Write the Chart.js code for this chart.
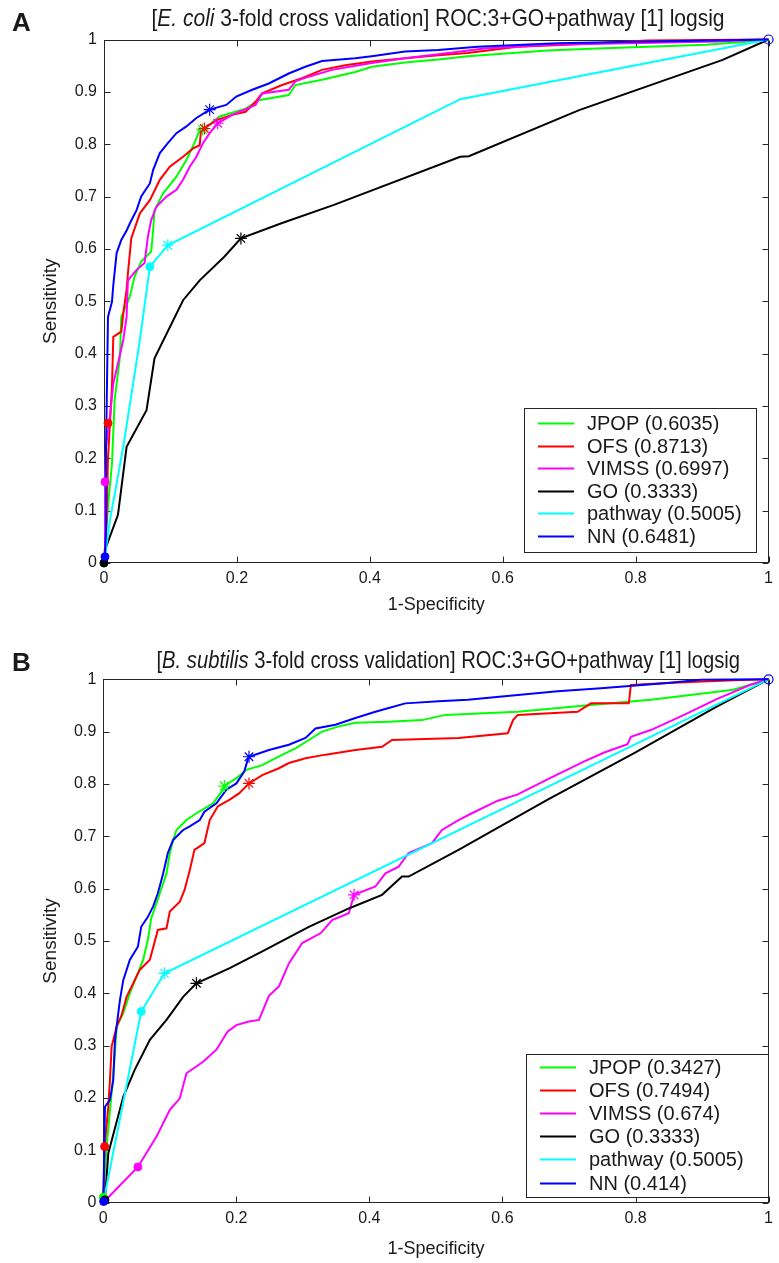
<!DOCTYPE html>
<html><head><meta charset="utf-8">
<script src="https://cdn.jsdelivr.net/npm/chart.js@4.4.1/dist/chart.umd.min.js"></script>
<style>
html,body{margin:0;padding:0;background:#fff;}
#wrap{position:relative;width:779px;height:1263px;overflow:hidden;background:#fff;}
canvas{position:absolute;left:0;}
.ttl{position:absolute;left:104px;width:668px;text-align:center;font-family:"Liberation Sans",Arial,sans-serif;font-size:24px;line-height:26px;color:#1a1a1a;transform:scaleX(0.875);white-space:nowrap;}
.pl{position:absolute;left:12px;font-family:"Liberation Sans",Arial,sans-serif;font-weight:bold;font-size:26px;line-height:26px;color:#1a1a1a;}
</style></head><body>
<div id="wrap">
<canvas id="cA" width="779" height="631" style="top:0;width:779px;height:631px"></canvas>
<canvas id="cB" width="779" height="632" style="top:631px;width:779px;height:632px"></canvas>
<div class="pl" style="top:9px">A</div>
<div class="ttl" style="top:5px">[<i>E. coli</i> 3-fold cross validation] ROC:3+GO+pathway [1] logsig</div>
<div class="pl" style="top:649px">B</div>
<div class="ttl" style="top:647px;transform:scaleX(0.843)">[<i>B. subtilis</i> 3-fold cross validation] ROC:3+GO+pathway [1] logsig</div>
</div>
<script>
// ---------- data ----------
const SERIES_LABELS = ['JPOP','OFS','VIMSS','GO','pathway','NN'];
const X_TICKS = ['0','0.2','0.4','0.6','0.8','1'];
const Y_TICKS = ['0','0.1','0.2','0.3','0.4','0.5','0.6','0.7','0.8','0.9','1'];
const X_TITLE = '1-Specificity';
const Y_TITLE = 'Sensitivity';
const AUC_A = ['0.6035','0.8713','0.6997','0.3333','0.5005','0.6481'];
const AUC_B = ['0.3427','0.7494','0.674','0.3333','0.5005','0.414'];

// Panel A (E. coli): [1-specificity, sensitivity]
const A_JPOP = [[0,0],[0.006,0.108],[0.012,0.19],[0.016,0.311],[0.024,0.394],[0.026,0.47],[0.039,0.509],[0.046,0.547],[0.056,0.576],[0.071,0.595],[0.074,0.636],[0.076,0.674],[0.089,0.706],[0.109,0.738],[0.124,0.77],[0.136,0.802],[0.144,0.827],[0.151,0.83],[0.174,0.853],[0.213,0.868],[0.233,0.884],[0.278,0.894],[0.288,0.913],[0.328,0.923],[0.378,0.938],[0.403,0.948],[0.453,0.956],[0.503,0.962],[0.547,0.968],[0.667,0.979],[0.742,0.983],[0.906,0.99],[0.971,0.996],[1,1]];
const A_OFS = [[0,0],[0.004,0.082],[0.006,0.2],[0.009,0.267],[0.012,0.337],[0.014,0.432],[0.026,0.442],[0.029,0.477],[0.034,0.522],[0.036,0.553],[0.041,0.62],[0.054,0.668],[0.069,0.693],[0.084,0.732],[0.099,0.757],[0.119,0.776],[0.134,0.792],[0.144,0.798],[0.146,0.827],[0.151,0.83],[0.169,0.846],[0.193,0.856],[0.213,0.862],[0.228,0.881],[0.238,0.897],[0.268,0.913],[0.298,0.926],[0.328,0.942],[0.363,0.951],[0.403,0.958],[0.453,0.964],[0.503,0.97],[0.547,0.974],[0.622,0.986],[0.697,0.99],[0.817,0.998],[1,1]];
const A_VIMSS = [[0,0],[0.0015,0.155],[0.003,0.222],[0.009,0.28],[0.014,0.343],[0.021,0.381],[0.029,0.426],[0.034,0.47],[0.036,0.54],[0.049,0.56],[0.061,0.573],[0.066,0.623],[0.071,0.655],[0.079,0.681],[0.094,0.7],[0.109,0.713],[0.119,0.732],[0.129,0.757],[0.139,0.776],[0.149,0.802],[0.159,0.821],[0.171,0.84],[0.193,0.856],[0.228,0.875],[0.238,0.897],[0.278,0.904],[0.288,0.92],[0.308,0.929],[0.343,0.942],[0.403,0.955],[0.453,0.964],[0.503,0.972],[0.572,0.983],[0.672,0.99],[0.921,0.996],[1,1]];
const A_GO = [[0,0],[0.0015,0.025],[0.021,0.092],[0.034,0.222],[0.064,0.292],[0.076,0.391],[0.119,0.502],[0.144,0.54],[0.181,0.585],[0.206,0.62],[0.267,0.649],[0.346,0.684],[0.536,0.776],[0.549,0.777],[0.715,0.865],[0.931,0.961],[1,1]];
const A_PATHWAY = [[0,0],[0.009,0.082],[0.029,0.222],[0.054,0.426],[0.069,0.566],[0.096,0.607],[0.536,0.886],[1,1]];
const A_NN = [[0,0],[0.0015,0.012],[0.003,0.063],[0.003,0.216],[0.006,0.47],[0.012,0.499],[0.014,0.531],[0.019,0.592],[0.026,0.617],[0.034,0.635],[0.039,0.649],[0.049,0.674],[0.056,0.7],[0.069,0.725],[0.074,0.751],[0.084,0.783],[0.096,0.802],[0.109,0.821],[0.124,0.834],[0.139,0.85],[0.159,0.866],[0.184,0.875],[0.199,0.891],[0.223,0.904],[0.248,0.916],[0.278,0.935],[0.303,0.948],[0.328,0.959],[0.378,0.964],[0.403,0.968],[0.453,0.977],[0.503,0.98],[0.562,0.986],[0.682,0.993],[0.821,0.996],[1,1]];
const A_STARS = [[0.148,0.828],[0.151,0.83],[0.171,0.84],[0.206,0.62],[0.096,0.607],[0.159,0.866]];
const A_DOTS = [[0,0],[0.006,0.267],[0.0015,0.155],[0,0],[0.069,0.566],[0.0015,0.012]];

// Panel B (B. subtilis)
const B_JPOP = [[0,0],[0,0.011],[0.005,0.107],[0.0125,0.209],[0.0175,0.285],[0.02,0.336],[0.03,0.362],[0.04,0.4],[0.05,0.432],[0.06,0.464],[0.067,0.502],[0.072,0.543],[0.08,0.572],[0.085,0.591],[0.095,0.629],[0.1,0.668],[0.105,0.693],[0.11,0.712],[0.125,0.731],[0.14,0.744],[0.165,0.763],[0.18,0.789],[0.182,0.796],[0.2,0.811],[0.215,0.827],[0.239,0.836],[0.254,0.846],[0.274,0.859],[0.289,0.868],[0.309,0.884],[0.329,0.9],[0.354,0.91],[0.379,0.917],[0.429,0.919],[0.479,0.922],[0.514,0.932],[0.623,0.938],[0.733,0.951],[0.823,0.961],[0.907,0.974],[0.947,0.98],[1,1]];
const B_OFS = [[0,0],[0.002,0.107],[0.0075,0.183],[0.01,0.234],[0.0125,0.298],[0.02,0.336],[0.0275,0.358],[0.035,0.393],[0.045,0.419],[0.055,0.445],[0.07,0.464],[0.082,0.521],[0.095,0.524],[0.1,0.556],[0.115,0.575],[0.122,0.597],[0.13,0.635],[0.137,0.674],[0.152,0.687],[0.16,0.731],[0.172,0.757],[0.19,0.77],[0.204,0.782],[0.219,0.801],[0.239,0.817],[0.264,0.83],[0.279,0.84],[0.304,0.849],[0.334,0.856],[0.379,0.865],[0.419,0.871],[0.434,0.884],[0.534,0.888],[0.608,0.897],[0.616,0.922],[0.623,0.932],[0.713,0.938],[0.733,0.954],[0.79,0.954],[0.793,0.989],[0.848,0.993],[0.947,0.998],[1,1]];
const B_VIMSS = [[0,0],[0.052,0.068],[0.08,0.126],[0.1,0.177],[0.115,0.199],[0.125,0.247],[0.15,0.269],[0.17,0.292],[0.187,0.327],[0.2,0.339],[0.219,0.346],[0.234,0.349],[0.249,0.395],[0.264,0.413],[0.279,0.457],[0.299,0.496],[0.327,0.515],[0.344,0.54],[0.369,0.553],[0.377,0.588],[0.409,0.604],[0.424,0.629],[0.444,0.642],[0.459,0.668],[0.494,0.687],[0.509,0.712],[0.534,0.731],[0.554,0.744],[0.593,0.768],[0.623,0.78],[0.673,0.812],[0.723,0.843],[0.753,0.86],[0.788,0.876],[0.793,0.89],[0.823,0.903],[0.873,0.932],[0.922,0.962],[0.972,0.989],[1,1]];
const B_GO = [[0,0],[0.0025,0.005],[0.0075,0.094],[0.03,0.202],[0.047,0.253],[0.07,0.311],[0.095,0.349],[0.12,0.393],[0.14,0.419],[0.19,0.448],[0.239,0.48],[0.309,0.527],[0.369,0.562],[0.419,0.588],[0.449,0.623],[0.459,0.623],[0.534,0.674],[0.668,0.77],[0.798,0.859],[0.922,0.948],[1,1]];
const B_PATHWAY = [[0,0],[0.057,0.365],[0.092,0.438],[1,1]];
const B_NN = [[0,0],[0.0025,0.183],[0.01,0.196],[0.015,0.234],[0.0175,0.311],[0.02,0.336],[0.025,0.387],[0.03,0.425],[0.04,0.464],[0.052,0.489],[0.057,0.527],[0.067,0.546],[0.075,0.566],[0.082,0.591],[0.09,0.629],[0.097,0.668],[0.105,0.693],[0.12,0.712],[0.13,0.719],[0.145,0.731],[0.152,0.747],[0.17,0.763],[0.185,0.789],[0.2,0.801],[0.212,0.824],[0.217,0.846],[0.219,0.852],[0.249,0.865],[0.279,0.875],[0.304,0.888],[0.319,0.906],[0.349,0.913],[0.379,0.926],[0.409,0.938],[0.429,0.945],[0.454,0.954],[0.504,0.958],[0.548,0.961],[0.623,0.97],[0.683,0.977],[0.748,0.983],[0.848,0.993],[0.898,0.999],[1,1]];
const B_STARS = [[0.182,0.796],[0.219,0.801],[0.377,0.588],[0.14,0.419],[0.092,0.438],[0.219,0.852]];
const B_DOTS = [[0,0.01],[0.002,0.107],[0.052,0.068],[0.0025,0.005],[0.057,0.365],[0.0005,0.002]];
const END_POINT = [[1,1]];

// ---------- style ----------
const COLORS = ['#00ff00','#ff0000','#ff00ff','#000000','#00ffff','#0000ff'];
const FONT = '"Liberation Sans", Arial, sans-serif';
const INK = '#1a1a1a';
const AXIS = '#262626';

function toXY(arr){ return arr.map(p => ({x:p[0], y:p[1]})); }

const framePlugin = {
  id: 'frame',
  beforeDatasetsDraw(chart){
    const {ctx, chartArea:a, scales} = chart;
    const xs = scales.x, ys = scales.y;
    const L = Math.round(a.left)+0.5, R = Math.round(a.right)-0.5, T = Math.round(a.top)+0.5, B = Math.round(a.bottom)-0.5;
    ctx.save();
    ctx.strokeStyle = AXIS; ctx.lineWidth = 1;
    ctx.strokeRect(L, T, R-L, B-T);
    ctx.beginPath();
    xs.ticks.forEach(t => {
      const p = Math.round(xs.getPixelForValue(t.value)) + 0.5;
      ctx.moveTo(p, B); ctx.lineTo(p, B-6);
      ctx.moveTo(p, T); ctx.lineTo(p, T+6);
    });
    ys.ticks.forEach(t => {
      const p = Math.round(ys.getPixelForValue(t.value)) + 0.5;
      ctx.moveTo(L, p); ctx.lineTo(L+6, p);
      ctx.moveTo(R, p); ctx.lineTo(R-6, p);
    });
    ctx.stroke();
    ctx.restore();
  },
  afterDatasetsDraw(chart, args, o){
    const lg = o.box; if (!lg) return;
    const ctx = chart.ctx;
    ctx.save();
    ctx.fillStyle = '#fff';
    ctx.fillRect(lg.x, lg.y, lg.w, lg.h);
    ctx.strokeStyle = AXIS; ctx.lineWidth = 1;
    ctx.strokeRect(lg.x+0.5, lg.y+0.5, lg.w, lg.h);
    ctx.font = '20px ' + FONT;
    ctx.textBaseline = 'middle';
    ctx.textAlign = 'left';
    o.items.forEach((txt, i) => {
      const y = Math.round(lg.y + lg.first + i*lg.step) + 0.5;
      ctx.strokeStyle = COLORS[i]; ctx.lineWidth = 2;
      ctx.beginPath(); ctx.moveTo(lg.x0, y); ctx.lineTo(lg.x1, y); ctx.stroke();
      ctx.fillStyle = INK;
      ctx.fillText(txt, lg.tx, y+1);
    });
    ctx.restore();
  }
};

function build(id, curves, stars, dots, auc, g){
  const ds = [];
  curves.forEach((c,i) => ds.push({
    data: toXY(c), showLine: true, borderColor: COLORS[i], backgroundColor: COLORS[i],
    borderWidth: 2, pointRadius: 0, pointHoverRadius: 0, order: 20 + (5-i), clip: 4
  }));
  stars.forEach((p,i) => ds.push({
    data: toXY([p]), showLine: false, pointStyle: 'star', pointRadius: 6,
    borderColor: COLORS[i], backgroundColor: COLORS[i], borderWidth: 1.2, order: 10 + (5-i), clip: false
  }));
  dots.forEach((p,i) => ds.push({
    data: toXY([p]), showLine: false, pointStyle: 'circle', pointRadius: 4,
    borderColor: COLORS[i], backgroundColor: COLORS[i], borderWidth: 1, order: 4 + (5-i)*0.1, clip: false
  }));
  ds.push({
    data: toXY(END_POINT), showLine: false, pointStyle: 'circle', pointRadius: 4.5,
    borderColor: COLORS[5], backgroundColor: 'rgba(255,255,255,0)', borderWidth: 1.2, order: 0, clip: false
  });

  const items = SERIES_LABELS.map((s,i) => s + ' (' + auc[i] + ')');
  return new Chart(document.getElementById(id), {
    type: 'scatter',
    data: { datasets: ds },
    plugins: [framePlugin],
    options: {
      responsive: false, animation: false, devicePixelRatio: 1, events: [],
      layout: { padding: { left: 0, top: g.padTop, right: g.padRight, bottom: g.padBottom } },
      plugins: {
        legend: { display: false }, tooltip: { enabled: false }, title: { display: false },
        frame: { box: g.legend, items: items }
      },
      scales: {
        x: {
          type: 'linear', min: 0, max: 1,
          grid: { display: false, drawTicks: false }, border: { display: false },
          ticks: { stepSize: 0.2, autoSkip: false, maxRotation: 0, padding: 6, color: INK,
                   font: { family: FONT, size: 16 }, callback: (v, i) => X_TICKS[i] },
          title: { display: true, text: X_TITLE, color: INK, font: { family: FONT, size: 18 },
                   padding: { top: 0, bottom: g.xTitlePad } },
          afterFit: s => { s.height = g.xHeight; }
        },
        y: {
          type: 'linear', min: 0, max: 1,
          grid: { display: false, drawTicks: false }, border: { display: false },
          ticks: { stepSize: 0.1, autoSkip: false, padding: 7, color: INK,
                   font: { family: FONT, size: 16 }, callback: (v, i) => Y_TICKS[i] },
          title: { display: true, text: Y_TITLE, color: INK, font: { family: FONT, size: 19 },
                   padding: { top: 39, bottom: 0 } },
          afterFit: s => { s.width = g.yWidth; }
        }
      }
    }
  });
}

build('cA', [A_JPOP, A_OFS, A_VIMSS, A_GO, A_PATHWAY, A_NN], A_STARS, A_DOTS, AUC_A, {
  padTop: 39.5, padRight: 6.5, padBottom: 12, yWidth: 104, xHeight: 56, xTitlePad: 3,
  legend: { x: 524, y: 408, w: 232, h: 144, first: 15, step: 22.5, x0: 538, x1: 574, tx: 587 }
});
build('cB', [B_JPOP, B_OFS, B_VIMSS, B_GO, B_PATHWAY, B_NN], B_STARS, B_DOTS, AUC_B, {
  padTop: 48.3, padRight: 7, padBottom: 2.5, yWidth: 103.3, xHeight: 58, xTitlePad: 0.7,
  legend: { x: 526, y: 423, w: 242, h: 143, first: 12.5, step: 23.2, x0: 540, x1: 576, tx: 589 }
});
</script>
</body></html>
